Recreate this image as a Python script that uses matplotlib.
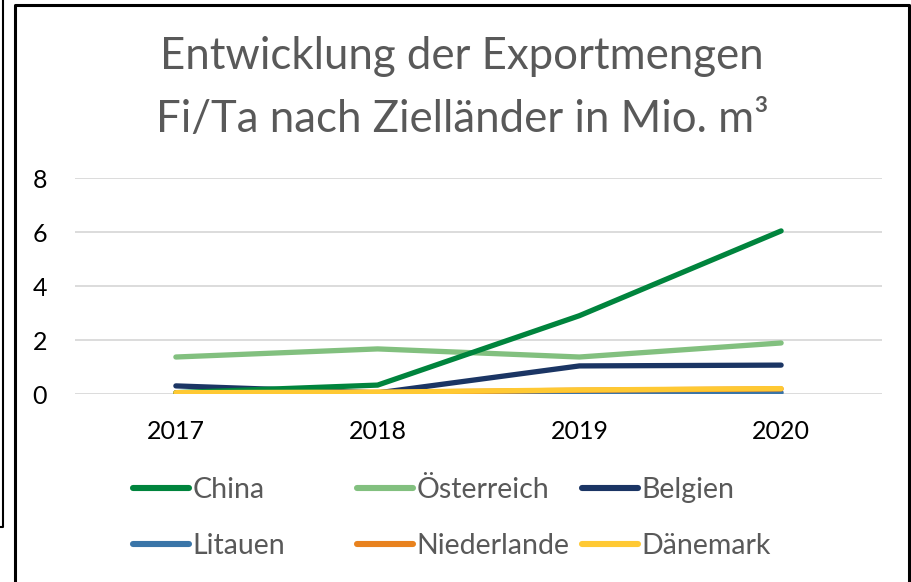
import matplotlib
matplotlib.use('Agg')
import matplotlib.pyplot as plt
from matplotlib.lines import Line2D

# Years on the category axis
YEARS = ['2017', '2018', '2019', '2020']

# Export volumes in Mio. m3
china = [0.05, 0.33, 2.9, 6.04]
oesterreich = [1.37, 1.67, 1.37, 1.89]
belgien = [0.30, 0.04, 1.04, 1.07]
litauen = [0.0, 0.0, 0.0, 0.05]
niederlande = [0.04, 0.06, 0.14, 0.19]
daenemark = [0.05, 0.07, 0.15, 0.20]

NAMES = ['China', 'Österreich', 'Belgien', 'Litauen', 'Niederlande', 'Dänemark']
COLORS = ['#00843D', '#82C07F', '#1B3564', '#3A75A8', '#E8821E', '#FFC933']

plt.rcParams['font.family'] = ['Lato', 'DejaVu Sans']

fig = plt.figure(figsize=(9.12, 5.82), dpi=100)
ax = fig.add_axes([75 / 912, 1 - 394 / 582, 807 / 912, 216 / 582])

x = range(len(YEARS))
series = [china, oesterreich, belgien, litauen, niederlande, daenemark]
# draw order so the small series end up on top like in the original
order = [3, 4, 1, 2, 0, 5]
for i in order:
    ax.plot(x, series[i], color=COLORS[i], lw=3.8,
            solid_capstyle='round', solid_joinstyle='round',
            zorder=3 + order.index(i))

ax.set_xlim(-0.5, 3.5)
ax.set_ylim(0, 8)
ax.set_yticks([0, 2, 4, 6, 8])
ax.set_xticks(list(x))
ax.set_xticklabels(YEARS)
ax.grid(axis='y', color='#D9D9D9', lw=1.3)
ax.set_axisbelow(True)
for s in ax.spines.values():
    s.set_visible(False)
ax.tick_params(length=0, labelsize=18, colors='black')
ax.tick_params(axis='y', pad=20)
ax.tick_params(axis='x', pad=19)

fig.text(462 / 912, 1 - 88 / 582,
         'Entwicklung der Exportmengen\nFi/Ta nach Zielländer in Mio. m³',
         ha='center', va='center', fontsize=31.5, color='#595959',
         linespacing=1.65)

# Excel-style legend: three fixed-width columns, filled row by row
col_x = [133, 357, 582]
for col, left in enumerate(col_x):
    idx = [col, col + 3]
    hs = [Line2D([], [], color=COLORS[i], lw=4.4, solid_capstyle='round')
          for i in idx]
    leg = fig.legend(hs, [NAMES[i] for i in idx], loc='center left',
                     bbox_to_anchor=(left / 912, 1 - 518 / 582),
                     frameon=False, fontsize=20.5, handlelength=1.95,
                     handletextpad=0.15, labelspacing=1.07,
                     borderpad=0, borderaxespad=0)
    for t in leg.get_texts():
        t.set_color('#595959')

# chart border plus the edge of the neighbouring frame
fig.add_artist(Line2D([15 / 912, 15 / 912, 909 / 912, 909 / 912],
                      [0, 1 - 5 / 582, 1 - 5 / 582, 0],
                      transform=fig.transFigure, color='black', lw=2.2))
fig.add_artist(Line2D([3 / 912, 3 / 912, 0],
                      [1, 1 - 527 / 582, 1 - 527 / 582],
                      transform=fig.transFigure, color='black', lw=1.5))

fig.savefig('out.png', dpi=100)
